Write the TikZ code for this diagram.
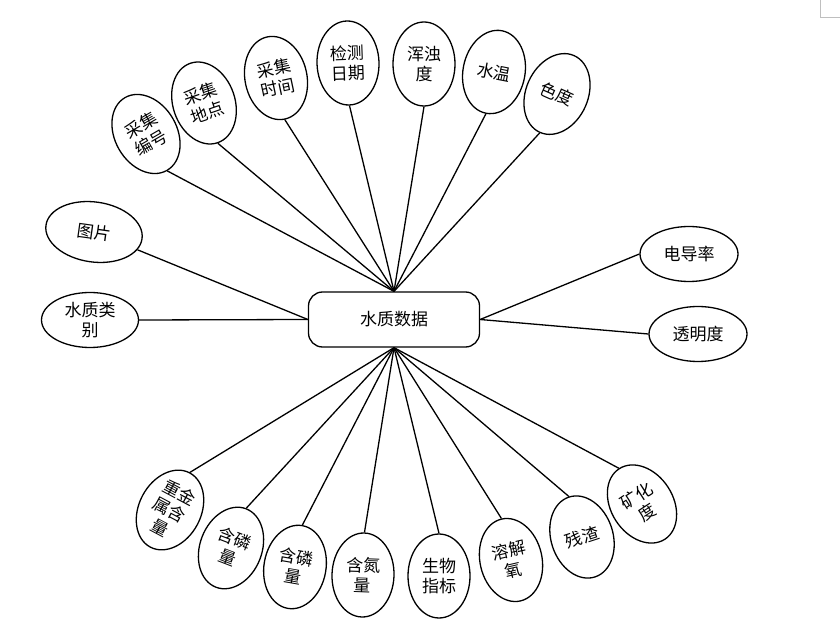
\documentclass[tikz,border=0pt]{standalone}
\usepackage{fontspec}
\setmainfont{Noto Sans CJK SC}
\usetikzlibrary{shapes.geometric}
\newcommand{\attrfont}{\fontsize{17}{20}\selectfont}
\tikzset{
  attrnode/.style={ellipse, draw=black, line width=1.3pt, fill=white,
                   inner sep=0pt, minimum width=62pt, minimum height=84pt,
                   font=\attrfont, align=center},
  wideattr/.style={attrnode, minimum width=97pt, minimum height=55pt},
  entitybox/.style={rectangle, rounded corners=14pt, draw=black, line width=1.3pt,
                   fill=white, minimum width=171pt, minimum height=55pt,
                   font=\attrfont, align=center},
}

\begin{document}
\begin{tikzpicture}[
        x=1pt, y=1pt,
        link/.style={line width=1.3pt, color=black},
      ]
        \useasboundingbox (0,0) rectangle (840,624);
        \node[entitybox] (data) at (394,304.5) {水质数据};
        % upper fan
        \node[attrnode, rotate=30] (sampleno) at (146,490) {采集\\编号};
        \node[attrnode, rotate=19] (site) at (204,521) {采集\\地点};
        \node[attrnode, rotate=12] (time) at (276,546) {采集\\时间};
        \node[attrnode, rotate=2] (date) at (348,561) {检测\\日期};
        \node[attrnode] (turb) at (424,560) {浑浊\\度};
        \node[attrnode, rotate=-11] (temp) at (494,552) {水温};
        \node[attrnode, rotate=-24] (colour) at (557,530) {色度};
        % left and right
        \node[wideattr, rotate=-8, minimum height=60pt] (photo) at (94,392) {图片};
        \node[wideattr] (class) at (90,304) {水质类\\别};
        \node[wideattr, minimum width=98pt] (cond) at (689,370) {电导率};
        \node[wideattr, minimum width=98pt] (clarity) at (698,290) {透明度};
        % lower fan
        \node[attrnode, rotate=-28] (metal) at (170,114) {重金\\属含\\量};
        \node[attrnode, rotate=-21] (phos1) at (231,76) {含磷\\量};
        \node[attrnode, rotate=-10] (phos2) at (295,57) {含磷\\量};
        \node[attrnode, rotate=-2] (nitro) at (363,49) {含氮\\量};
        \node[attrnode] (bio) at (439,48) {生物\\指标};
        \node[attrnode, rotate=13] (oxy) at (511,64) {溶解\\氧};
        \node[attrnode, rotate=18] (resid) at (582,87) {残渣};
        \node[attrnode, rotate=33] (miner) at (642,120) {矿化\\度};
        \draw[link] (data.north) -- (sampleno.south);
        \draw[link] (data.north) -- (site.south);
        \draw[link] (data.north) -- (time.south);
        \draw[link] (data.north) -- (date.south);
        \draw[link] (data.north) -- (turb.south);
        \draw[link] (data.north) -- (temp.south);
        \draw[link] (data.north) -- (colour.south);
        \draw[link] (data.west) -- (photo);
        \draw[link] (data.west) -- (class.east);
        \draw[link] (data.east) -- (cond.west);
        \draw[link] (data.east) -- (clarity.west);
        \draw[link] (data.south) -- (metal.north);
        \draw[link] (data.south) -- (phos1.north);
        \draw[link] (data.south) -- (phos2.north);
        \draw[link] (data.south) -- (nitro.north);
        \draw[link] (data.south) -- (bio.north);
        \draw[link] (data.south) -- (oxy.north);
        \draw[link] (data.south) -- (resid.north);
        \draw[link] (data.south) -- (miner.north);
        % page corner mark
        \draw[gray!50, line width=0.6pt] (820,624) -- (820,607) -- (840,607);
      \end{tikzpicture}
\end{document}
